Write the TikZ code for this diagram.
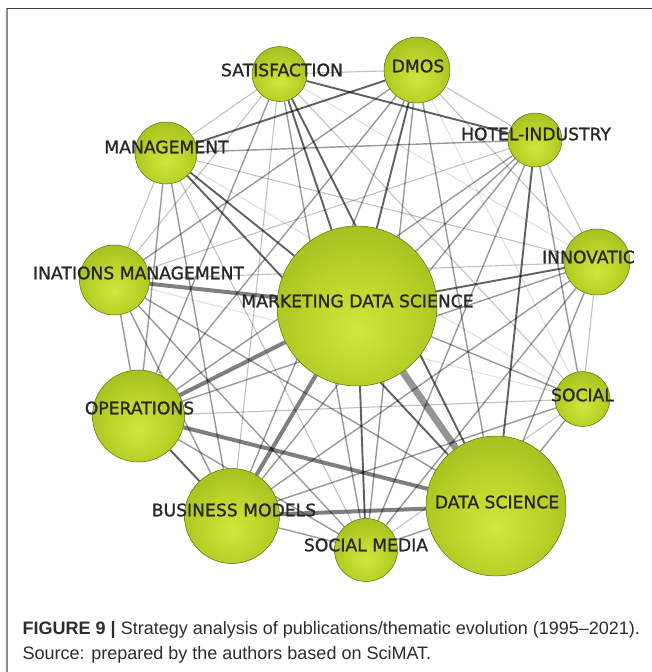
\documentclass[tikz,border=0pt]{standalone}
\usepackage{fontspec}
\newfontfamily\lblfont[FakeBold=1.2]{DejaVu Sans}
\newfontfamily\capfont{Liberation Sans}
\definecolor{sphA}{RGB}{210,230,62}
\definecolor{sphB}{RGB}{188,212,42}
\definecolor{sphC}{RGB}{152,180,26}
\definecolor{sphD}{RGB}{106,132,14}
\definecolor{lblcol}{RGB}{40,40,40}
\definecolor{capcol}{RGB}{45,45,45}
\pgfdeclareradialshading{sphereshade}{\pgfpoint{0bp}{-8bp}}{color(0bp)=(sphA); color(16bp)=(sphB); color(38bp)=(sphC); color(50bp)=(sphD); color(60bp)=(sphD)}
\pgfdeclarelayer{bg}
\pgfdeclarelayer{edges}
\pgfsetlayers{bg,edges,main}
\begin{document}
\begin{tikzpicture}[x=1pt,y=-1pt,
  sphere/.style={circle, shading=sphereshade, draw=sphD!85!black, line width=0.5pt, inner sep=0pt, minimum size=#1pt},
  lbl/.style={inner sep=0pt, text=lblcol, font=\lblfont\fontsize{17.2}{17.2}\selectfont},
  e1/.style={draw=black, opacity=0.13, line width=1pt},
  e2/.style={draw=black, opacity=0.24, line width=1.1pt},
  e3/.style={draw=black, opacity=0.40, line width=1.4pt},
  e4/.style={draw=black, opacity=0.62, line width=1.9pt},
  e5/.style={draw=black, opacity=0.50, line width=4pt},
  e6/.style={draw=black, opacity=0.42, line width=7pt},
  capt/.style={anchor=base west, inner sep=0pt, text=capcol, font=\capfont\fontsize{18}{22}\selectfont}]
\useasboundingbox (0,0) rectangle (652,672);
\begin{pgfonlayer}{bg}
\fill[white] (0,0) rectangle (652,672);
\end{pgfonlayer}
\draw[gray!90, line width=1.7pt] (7.3,672) -- (7.3,8.3);
\draw[black!75, line width=1.3pt] (6.5,8.3) -- (652,8.3);

% spheres
\node[sphere=55] (sat) at (279.5,74) {};
\node[sphere=66] (dmos) at (417,70) {};
\node[sphere=54] (hot) at (535,140) {};
\node[sphere=62] (man) at (166,153) {};
\node[sphere=66] (inn) at (597,262) {};
\node[sphere=70] (dest) at (114.5,280) {};
\node[sphere=160] (mds) at (357,306) {};
\node[sphere=55] (soc) at (582.5,399) {};
\node[sphere=92] (ope) at (138.5,416) {};
\node[sphere=95] (bus) at (232,516) {};
\node[sphere=63] (sm) at (366,550) {};
\node[sphere=140] (ds) at (496,506) {};

% labels
\node[lbl] (satL) at (282,70) {SATISFACTION};
\node[lbl] (dmosL) at (418,66) {DMOS};
\node[lbl] (hotL) at (536,134) {HOTEL-INDUSTRY};
\node[lbl] (manL) at (166.5,147) {MANAGEMENT};
\node[lbl] (innL) at (588.5,257) {INNOVATIC};
\node[lbl] (destL) at (138.5,273) {INATIONS MANAGEMENT};
\node[lbl] (mdsL) at (357.5,301) {MARKETING DATA SCIENCE};
\node[lbl] (socL) at (582.5,395) {SOCIAL};
\node[lbl] (opeL) at (139.5,408) {OPERATIONS};
\node[lbl] (busL) at (234,510) {BUSINESS MODELS};
\node[lbl] (smL) at (366,545) {SOCIAL MEDIA};
\node[lbl] (dsL) at (497,502) {DATA SCIENCE};

% caption
\node[capt] (cap1) at (22.5,634.3) {\textbf{FIGURE 9 |} Strategy analysis of publications/thematic evolution (1995–2021).};
\node[capt] (cap2) at (22.5,659) {Source: prepared by the authors based on SciMAT.};

\begin{pgfonlayer}{edges}
\foreach \a/\b in {sat/inn, dmos/soc, man/soc, dest/soc}
  \draw[e1] (\a) -- (\b);
\foreach \a/\b in {sat/dmos, sat/man, sat/dest, sat/soc, sat/bus, dmos/hot, dmos/inn,
                   hot/inn, hot/dest, man/inn, man/dest, man/sm, inn/dest, inn/soc,
                   soc/ope, soc/sm}
  \draw[e2] (\a) -- (\b);
\foreach \a/\b in {sat/ope, sat/sm, dmos/dest, dmos/ope, dmos/bus, dmos/sm, dmos/ds,
                   hot/man, hot/mds, hot/soc, hot/ope, hot/bus, hot/sm,
                   man/ope, man/bus, inn/ope, inn/bus, inn/sm, inn/ds,
                   dest/ope, dest/bus, dest/sm, dest/ds, mds/soc, soc/bus, soc/ds,
                   ope/sm, bus/sm, sm/ds}
  \draw[e3] (\a) -- (\b);
\foreach \a/\b in {sat/hot, sat/mds, sat/ds, dmos/man, dmos/mds, hot/ds, man/mds,
                   man/ds, inn/mds, mds/sm, ope/bus}
  \draw[e4] (\a) -- (\b);
\foreach \a/\b in {dest/mds, mds/ope, mds/bus, ope/ds, bus/ds}
  \draw[e5] (\a) -- (\b);
\draw[e6] (mds) -- (ds);
\end{pgfonlayer}
\end{tikzpicture}
\end{document}
